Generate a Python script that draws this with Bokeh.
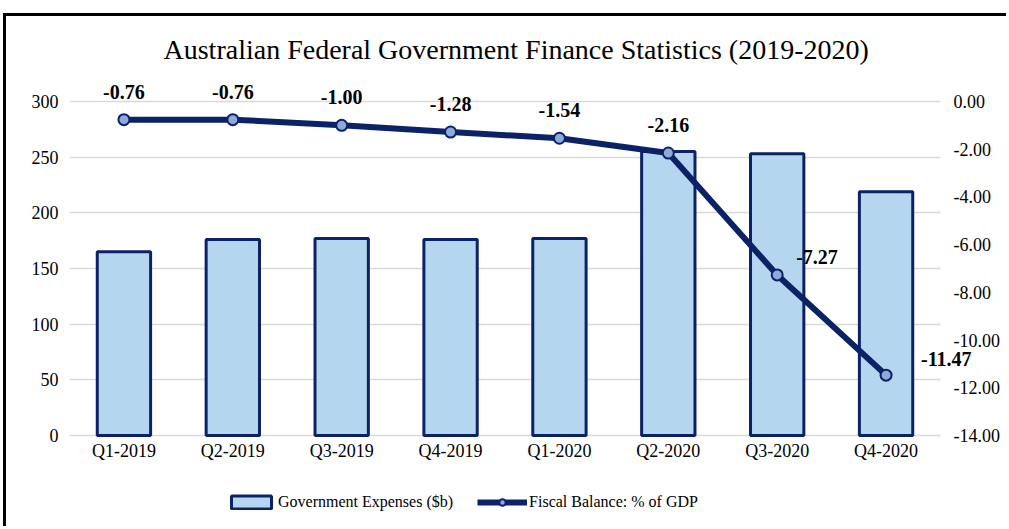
from bokeh.plotting import figure
from bokeh.models import (Range1d, LinearAxis, FixedTicker, NumeralTickFormatter,
                          ColumnDataSource, LabelSet, Legend, LegendItem)
from bokeh.embed import file_html
from bokeh.resources import INLINE

# ---- data ----
quarters = ["Q1-2019", "Q2-2019", "Q3-2019", "Q4-2019",
            "Q1-2020", "Q2-2020", "Q3-2020", "Q4-2020"]
expenses = [165, 176, 177, 176, 177, 255, 253, 219]
balance = [-0.76, -0.76, -1.00, -1.28, -1.54, -2.16, -7.27, -11.47]
left_ticks = [0, 50, 100, 150, 200, 250, 300]
right_ticks = [-14, -12, -10, -8, -6, -4, -2, 0]

# ---- style / layout constants (page pixels) ----
NAVY = "#0c2266"
BAR = "#b4d6ee"
MARK = "#8eaadc"
GRID = "#d9d9d9"
FONT = "Liberation Serif"
W, H = 1009, 529
OX, OY = 6, 16                 # figure origin on page (after CSS border)
DATA_L, DATA_R = 69, 940       # plotting area of the categories
DATA_T, DATA_B = 101, 435      # y of 300 / 0
FRAME_T, FRAME_B, FRAME_R = 72, 515, 980

xs = list(range(len(quarters)))
cat_px = (DATA_R - DATA_L) / len(quarters)
ppu_l = (DATA_B - DATA_T) / 300.0
ppu_r = (DATA_B - DATA_T) / 14.0

x_range = Range1d(-0.5, len(quarters) - 0.5 + (FRAME_R - DATA_R) / cat_px)
y_range = Range1d(-(FRAME_B - DATA_B) / ppu_l, 300 + (DATA_T - FRAME_T) / ppu_l)

p = figure(width=W - OX, height=H - OY, x_range=x_range, y_range=y_range,
           output_backend="svg", toolbar_location=None,
           min_border_left=DATA_L - OX, min_border_right=W - FRAME_R,
           min_border_top=FRAME_T - OY, min_border_bottom=H - FRAME_B,
           title="Australian Federal Government Finance Statistics (2019-2020)")
p.extra_y_ranges = {"bal": Range1d(-14 - (FRAME_B - DATA_B) / ppu_r,
                                   (DATA_T - FRAME_T) / ppu_r)}
p.outline_line_color = None
p.background_fill_color = "white"
p.border_fill_color = "white"
p.styles = {"margin-left": "3px", "margin-top": "13px",
            "border-left": "3px solid black", "border-top": "3px solid black"}

p.title.text_font = FONT
p.title.text_font_size = "28px"
p.title.text_font_style = "normal"
p.title.text_color = "black"
p.title.align = "left"
p.title.offset = 163 - DATA_L
p.title.standoff = 16

# axes
p.xaxis.ticker = FixedTicker(ticks=xs)
p.xaxis.major_label_overrides = {i: q for i, q in zip(xs, quarters)}
p.xaxis.axis_line_color = None
p.xaxis.major_tick_line_color = None
p.xaxis.minor_tick_line_color = None
p.xaxis.major_tick_out = 0
p.xaxis.major_label_text_font = FONT
p.xaxis.major_label_text_font_size = "18px"
p.xaxis.major_label_text_color = "black"
p.xaxis.major_label_standoff = 5 - (FRAME_B - DATA_B)
p.xgrid.grid_line_color = None

p.yaxis.ticker = FixedTicker(ticks=left_ticks)
p.yaxis.axis_line_color = None
p.yaxis.major_tick_line_color = None
p.yaxis.minor_tick_line_color = None
p.yaxis.major_tick_out = 0
p.yaxis.major_label_text_font = FONT
p.yaxis.major_label_text_font_size = "18px"
p.yaxis.major_label_text_color = "black"
p.yaxis.major_label_standoff = 11

grid = p.ygrid[0]
grid.ticker = FixedTicker(ticks=left_ticks)
grid.grid_line_color = GRID
grid.grid_line_width = 1.5
use_cross = "cross_bounds" in grid.properties()
if use_cross:
    grid.cross_bounds = (-0.5, len(quarters) - 0.5)
else:
    grid.grid_line_color = None
    p.segment(x0=-0.5, x1=len(quarters) - 0.5, y0=left_ticks, y1=left_ticks,
              line_color=GRID, line_width=1.5)

raxis = LinearAxis(y_range_name="bal", ticker=FixedTicker(ticks=right_ticks),
                   formatter=NumeralTickFormatter(format="0.00"))
raxis.axis_line_color = None
raxis.major_tick_line_color = None
raxis.minor_tick_line_color = None
raxis.major_tick_out = 0
raxis.major_label_text_font = FONT
raxis.major_label_text_font_size = "18px"
raxis.major_label_text_color = "black"
raxis.major_label_standoff = 13 - (FRAME_R - DATA_R)
p.add_layout(raxis, "right")

# glyphs
bars = p.vbar(x=xs, top=expenses, width=0.49, fill_color=BAR,
              line_color=NAVY, line_width=3)
line = p.line(x=xs, y=balance, y_range_name="bal", line_color=NAVY,
              line_width=6)
dots = p.scatter(x=xs, y=balance, y_range_name="bal", size=11,
                 fill_color=MARK, line_color=NAVY, line_width=2)

# data labels
texts = [f"{v:.2f}" for v in balance]
n_above = 6
right_dx = [19, 35]
right_dy = [18, 16]
src_above = ColumnDataSource(dict(x=xs[:n_above], y=balance[:n_above],
                                  t=texts[:n_above]))
src_right = ColumnDataSource(dict(x=xs[n_above:], y=balance[n_above:],
                                  t=texts[n_above:], dx=right_dx, dy=right_dy))
lab_above = LabelSet(x="x", y="y", text="t", source=src_above, y_range_name="bal",
                     text_align="center", text_baseline="middle", y_offset=28,
                     text_font=FONT, text_font_style="bold", text_font_size="20px",
                     text_color="black")
lab_right = LabelSet(x="x", y="y", text="t", source=src_right, y_range_name="bal",
                     text_align="left", text_baseline="middle", x_offset="dx",
                     y_offset="dy",
                     text_font=FONT, text_font_style="bold", text_font_size="20px",
                     text_color="black")
p.add_layout(lab_above)
p.add_layout(lab_right)

legend = Legend(items=[LegendItem(label="Government Expenses ($b)", renderers=[bars]),
                       LegendItem(label="Fiscal Balance: % of GDP", renderers=[line, dots])],
                orientation="horizontal", location=(226 - DATA_L, FRAME_B - 511),
                glyph_width=50, glyph_height=16, label_standoff=2, spacing=24,
                padding=0, margin=0, border_line_color=None,
                background_fill_alpha=0,
                label_text_font=FONT, label_text_font_size="16px",
                label_text_color="black")
p.add_layout(legend, "center")

open("out.html", "w").write(file_html(p, INLINE))
